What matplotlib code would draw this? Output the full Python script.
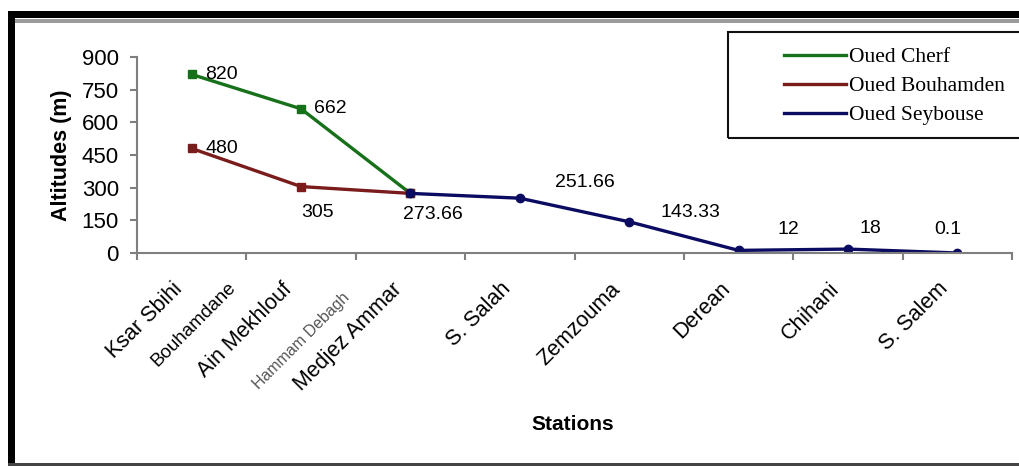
import matplotlib
matplotlib.use("Agg")
import matplotlib.pyplot as plt
from matplotlib.patches import Rectangle
from matplotlib.transforms import ScaledTranslation

plt.rcParams['font.family'] = ['Liberation Sans', 'DejaVu Sans']

# station positions along the river profile (category slots)
stations = ['Ksar Sbihi', 'Bouhamdane', 'Ain Mekhlouf', 'Hammam Debagh', 'Medjez Ammar',
            'S. Salah', 'Zemzouma', 'Derean', 'Chihani', 'S. Salem']
station_pos = [0, 0.5, 1, 1.5, 2, 3, 4, 5, 6, 7]

cherf_x = [0, 1, 2]
cherf_alt = [820, 662, 273.66]
bouh_x = [0, 1, 2]
bouh_alt = [480, 305, 273.66]
seyb_x = [2, 3, 4, 5, 6, 7]
seyb_alt = [273.66, 251.66, 143.33, 12, 18, 0.1]

W, H = 1019, 466
fig = plt.figure(figsize=(W / 100, H / 100), dpi=100)
ax = fig.add_axes([137 / W, 1 - 253 / H, (1012 - 137) / W, (253 - 57) / H])

green = '#17711a'
maroon = '#7a1c1c'
navy = '#0b0b62'

lg, = ax.plot(cherf_x, cherf_alt, color=green, lw=2.4, marker='s', ms=6)
lr, = ax.plot(bouh_x, bouh_alt, color=maroon, lw=2.4, marker='s', ms=6)
lb, = ax.plot(seyb_x, seyb_alt, color=navy, lw=2.4, marker='o', ms=6)

ax.set_xlim(-0.5, 7.5)
ax.set_ylim(0, 900)
ax.set_yticks(range(0, 901, 150))
ax.set_xticks([i - 0.5 for i in range(9)])
ax.set_xticklabels([])

for s in ['top', 'right']:
    ax.spines[s].set_visible(False)
for s in ['left', 'bottom']:
    ax.spines[s].set_color('#7f7f7f')
    ax.spines[s].set_linewidth(1.5)
ax.tick_params(axis='both', color='#7f7f7f', width=1.5, length=5)
ax.tick_params(axis='y', labelsize=16, pad=8)

# rotated station names
for name, pos in zip(stations, station_pos):
    size, col, dx, y = 15.5, 'black', -14, -0.13
    if name == 'Bouhamdane':
        size = 13.5
    if name == 'Hammam Debagh':
        size, col, dx, y = 11.5, '#555555', -10, -0.19
    shift = ScaledTranslation(dx / 72, 0, fig.dpi_scale_trans)
    ax.text(pos, y, name, transform=ax.get_xaxis_transform() + shift,
            rotation=45, ha='right', va='top', rotation_mode='anchor',
            fontsize=size, color=col)

# value labels
offsets = {
    (0, 820): (10, 0, 'left'), (1, 662): (9, 0, 'left'), (0, 480): (10, 0, 'left'),
    (1, 305): (11.5, -19, 'center'), (2, 273.66): (16.5, -15, 'center'),
    (3, 251.66): (47, 11.5, 'center'), (4, 143.33): (44, 6.5, 'center'),
    (5, 12): (36, 15, 'center'), (6, 18): (16, 14.5, 'center'), (7, 0.1): (-7, 17, 'center'),
}
for (x, v), (dx, dy, ha) in offsets.items():
    ax.annotate(f'{v:g}', (x, v), xytext=(dx, dy), textcoords='offset points',
                ha=ha, va='center', fontsize=14)

ax.set_ylabel('Altitudes (m)', fontsize=15.5, fontweight='bold', labelpad=7)
fig.text(573 / W, 1 - 425 / H, 'Stations', fontsize=15, fontweight='bold',
         ha='center', va='center')

# legend with its own frame running off the right edge
fig.patches.append(Rectangle((728 / W, 1 - 138 / H), 400 / W, 106 / H,
                             transform=fig.transFigure, fill=False,
                             edgecolor='#111111', lw=1.5))
fig.legend([lg, lr, lb], ['Oued Cherf', 'Oued Bouhamden', 'Oued Seybouse'],
           loc='upper left', bbox_to_anchor=(784 / W, 1 - 47 / H), frameon=False,
           prop={'family': 'Liberation Serif', 'size': 15.5},
           handlelength=2.9, handletextpad=0.1, labelspacing=0.42,
           borderaxespad=0, borderpad=0)
for h in fig.legends[0].legend_handles:
    h.set_marker('')

# outer border
fig.patches.append(Rectangle((8 / W, 0), 7 / W, 1 - 11 / H, transform=fig.transFigure,
                             color='black', lw=0))
fig.patches.append(Rectangle((8 / W, 1 - 18 / H), 1, 7 / H, transform=fig.transFigure,
                             color='black', lw=0))
fig.patches.append(Rectangle((15 / W, 1 - 23 / H), 1, 4 / H, transform=fig.transFigure,
                             color='#9a9a9a', lw=0))
fig.patches.append(Rectangle((8 / W, 0), 1, 3 / H, transform=fig.transFigure,
                             color='#444444', lw=0))

fig.savefig('out.png', dpi=100)
